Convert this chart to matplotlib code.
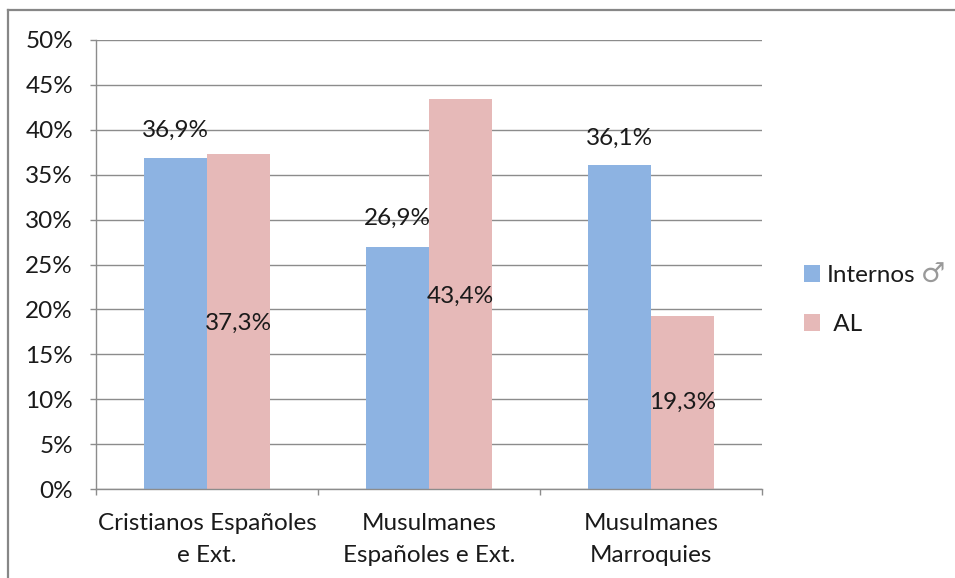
import matplotlib
matplotlib.use("Agg")
import matplotlib.pyplot as plt
from matplotlib.lines import Line2D
import numpy as np

categories = ["Cristianos Españoles\ne Ext.", "Musulmanes\nEspañoles e Ext.", "Musulmanes\nMarroquies"]
internos = [36.9, 26.9, 36.1]
al = [37.3, 43.4, 19.3]
series_names = ["Internos", " AL"]
y_ticks = [0, 5, 10, 15, 20, 25, 30, 35, 40, 45, 50]

# where the data labels sit (in % of the value axis)
internos_label_y = [39.9, 30.1, 39.0]
al_label_y = [18.5, 21.5, 9.6]

BLUE = "#8DB3E2"
PINK = "#E6B9B8"
GRID = "#8C8C8C"
TEXT = "#1A1A1A"

plt.rcParams["font.family"] = ["Lato", "DejaVu Sans"]

fig = plt.figure(figsize=(9.55, 5.78), dpi=100)
ax = fig.add_axes([96 / 955, 1 - 489 / 578, (762 - 96) / 955, (489 - 40) / 578])

x = np.arange(len(categories))
w = 0.286
ax.bar(x - w / 2, internos, width=w, color=BLUE, label=series_names[0], zorder=2)
ax.bar(x + w / 2, al, width=w, color=PINK, label=series_names[1], zorder=2)

fs = 17.5
for i, v in enumerate(internos):
    ax.text(x[i] - w / 2, internos_label_y[i], f"{v:.1f}%".replace(".", ","),
            ha="center", va="center", fontsize=fs, color=TEXT, zorder=3)
for i, v in enumerate(al):
    ax.text(x[i] + w / 2, al_label_y[i], f"{v:.1f}%".replace(".", ","),
            ha="center", va="center", fontsize=fs, color=TEXT, zorder=3)

ax.set_xlim(-0.5, len(categories) - 0.5)
ax.set_ylim(0, 50)
ax.set_yticks(y_ticks)
ax.set_yticklabels([f"{t}%" for t in y_ticks], fontsize=fs, color=TEXT)
ax.yaxis.grid(True, color=GRID, linewidth=1, zorder=0)
ax.set_axisbelow(True)

ax.set_xticks(x)
ax.set_xticklabels(categories, fontsize=fs, color=TEXT, linespacing=1.65)
ax.tick_params(axis="x", length=0, pad=17)
ax.set_xticks(np.arange(-0.5, len(categories)), minor=True)
ax.tick_params(axis="x", which="minor", length=4.5, color=GRID, width=1)
ax.tick_params(axis="y", length=4.5, color=GRID, width=1, pad=12)

for s in ["top", "right"]:
    ax.spines[s].set_visible(False)
for s in ["left", "bottom"]:
    ax.spines[s].set_color(GRID)
    ax.spines[s].set_linewidth(1)

leg = fig.legend(loc="center left", bbox_to_anchor=(782 / 955, 1 - 300 / 578),
                 frameon=False, fontsize=fs, handlelength=0.65, handleheight=0.65,
                 handletextpad=0.3, labelspacing=1.15)
for t in leg.get_texts():
    t.set_color(TEXT)

# male sign after the first legend entry, drawn light and thin
fig.canvas.draw()
bb = leg.get_texts()[0].get_window_extent()
fig.text((bb.x1 + 5) / 955, (bb.y0 + bb.y1) / 2 / 578, "\u2642",
         fontsize=fs + 2, color="#9A9A9A", family="DejaVu Sans",
         ha="left", va="center")

# outer chart frame (top and left edges)
fig.add_artist(Line2D([8 / 955, 1.0], [1 - 10 / 578, 1 - 10 / 578],
                      transform=fig.transFigure, color="#878787", linewidth=1.6))
fig.add_artist(Line2D([8 / 955, 8 / 955], [0, 1 - 10 / 578],
                      transform=fig.transFigure, color="#878787", linewidth=1.6))

fig.savefig("out.png", dpi=100)
